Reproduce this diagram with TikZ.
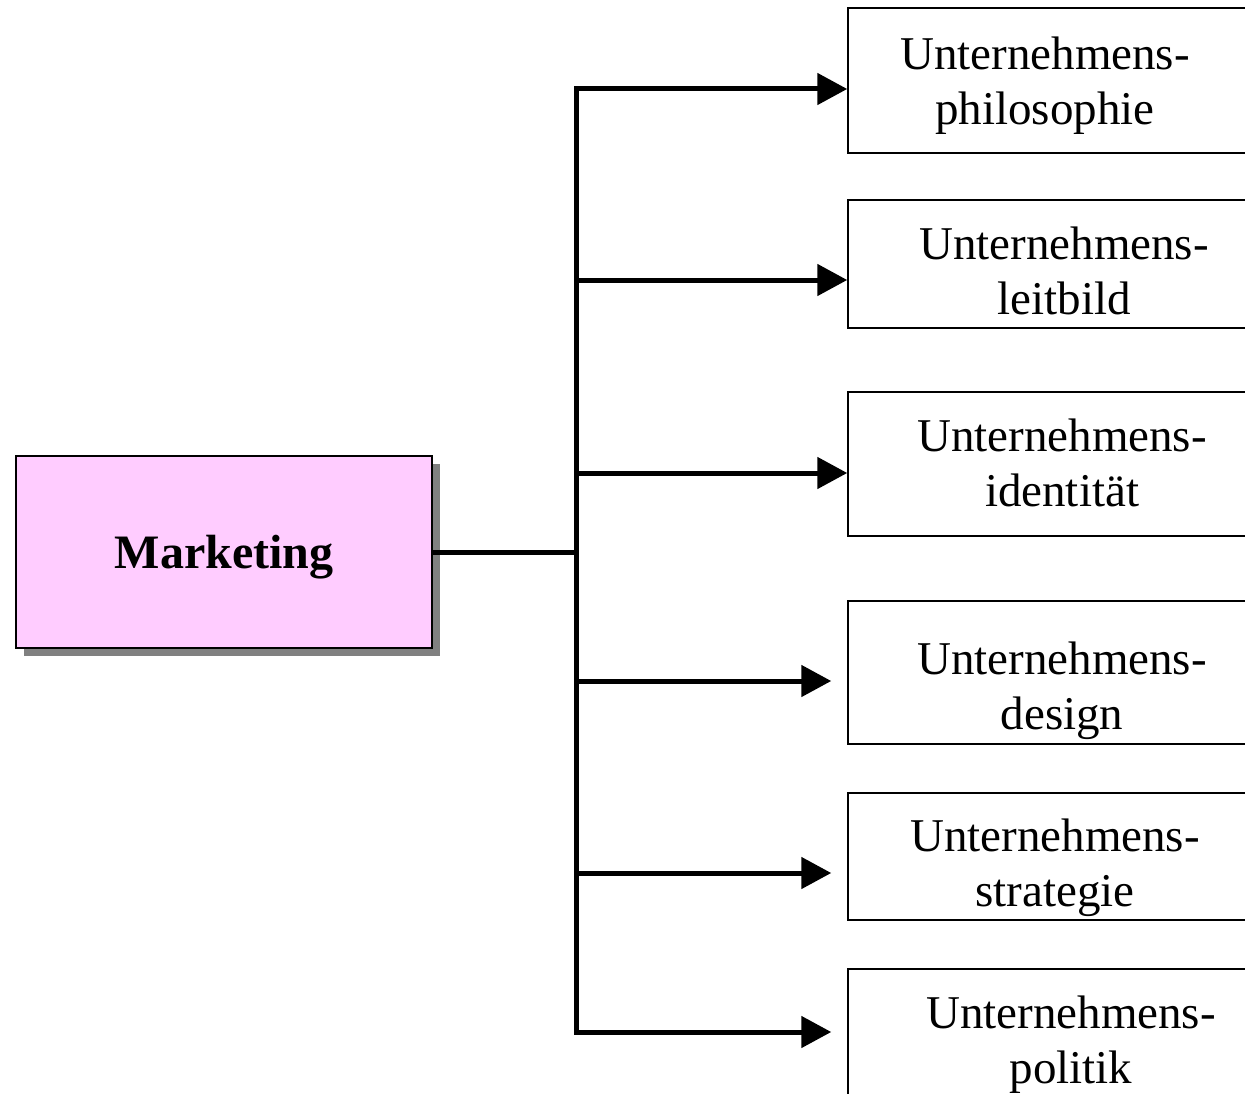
\documentclass[tikz,border=0pt]{standalone}
\usepackage{fontspec}
\setmainfont{Liberation Serif}
\usetikzlibrary{arrows.meta,shadows}
\definecolor{mkpink}{HTML}{FFCCFF}
\definecolor{shadowgray}{HTML}{808080}
\begin{document}
\begin{tikzpicture}[x=1pt,y=-1pt,
  conn/.style={line width=5pt},
  arr/.style={line width=5pt,-{Triangle[length=30pt,width=31pt]}},
  target/.style={draw,line width=1.5pt,rectangle,inner sep=0pt,minimum width=452pt},
  label/.style={align=center,inner sep=0pt,font=\fontsize{47}{55}\selectfont},
  mainbox/.style={draw,line width=1.5pt,fill=mkpink,inner sep=0pt,
    minimum width=416pt,minimum height=192pt,text depth=0pt,
    drop shadow={shadow xshift=8pt,shadow yshift=-8pt,fill=shadowgray,opacity=1},
    font=\fontsize{48}{56}\selectfont\bfseries}]
\useasboundingbox (0,0) rectangle (1245,1094);
\clip (0,0) rectangle (1245,1094);

% central box
\node[mainbox] (m) at (224,552) {Marketing};

% target boxes (they run past the right edge)
\node[target,minimum height=145pt] (b1) at (1074,80.5) {};
\node[target,minimum height=128pt] (b2) at (1074,264) {};
\node[target,minimum height=144pt] (b3) at (1074,464) {};
\node[target,minimum height=143pt] (b4) at (1074,672.5) {};
\node[target,minimum height=127pt] (b5) at (1074,856.5) {};
\node[target,minimum height=160pt] (b6) at (1074,1049) {};

% box labels
\node[label] (l1) at (1045,86) {Unternehmens-\strut\\philosophie\strut};
\node[label] (l2) at (1064,276) {Unternehmens-\strut\\leitbild\strut};
\node[label] (l3) at (1062,468) {Unternehmens-\strut\\identität\strut};
\node[label] (l4) at (1062,691) {Unternehmens-\strut\\design\strut};
\node[label] (l5) at (1055,868) {Unternehmens-\strut\\strategie\strut};
\node[label] (l6) at (1071,1045) {Unternehmens-\strut\\politik\strut};

% junction points on the vertical trunk
\coordinate (j) at (576,552);
\coordinate (a1) at (576,89);
\coordinate (a2) at (576,280);
\coordinate (a3) at (576,473);
\coordinate (a4) at (576,681);
\coordinate (a5) at (576,873);
\coordinate (a6) at (576,1032);

% connectors
\draw[conn] (m.east) -- (j);
\draw[conn,line cap=rect] (a1) -- (a6);
\draw[arr] (a1) -- (a1 -| b1.west);
\draw[arr] (a2) -- (a2 -| b2.west);
\draw[arr] (a3) -- (a3 -| b3.west);
\draw[arr,shorten >=16pt] (a4) -- (a4 -| b4.west);
\draw[arr,shorten >=16pt] (a5) -- (a5 -| b5.west);
\draw[arr,shorten >=16pt] (a6) -- (a6 -| b6.west);
\end{tikzpicture}
\end{document}
